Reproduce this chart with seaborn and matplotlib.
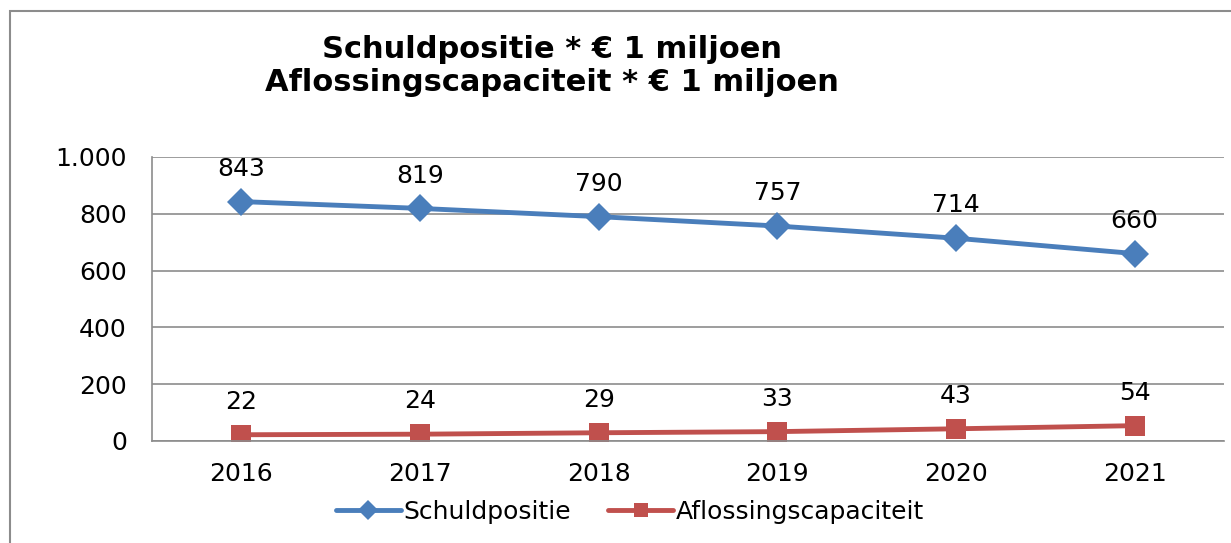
import matplotlib
matplotlib.use('Agg')
import matplotlib.pyplot as plt
import matplotlib.ticker as mticker
from matplotlib.patches import Rectangle
import seaborn as sns
import pandas as pd

years = ['2016', '2017', '2018', '2019', '2020', '2021']
schuldpositie = [843, 819, 790, 757, 714, 660]
aflossingscapaciteit = [22, 24, 29, 33, 43, 54]

series_names = ['Schuldpositie', 'Aflossingscapaciteit']
series_colors = ['#4a7ebb', '#c0504d']
series_markers = ['D', 's']

sns.set_style('white')
plt.rcParams['font.family'] = ['DejaVu Sans']
plt.rcParams['text.color'] = 'black'
plt.rcParams['xtick.color'] = 'black'
plt.rcParams['ytick.color'] = 'black'

df = pd.DataFrame({
    'jaar': years * 2,
    'waarde': schuldpositie + aflossingscapaciteit,
    'reeks': [series_names[0]] * 6 + [series_names[1]] * 6,
})

fig = plt.figure(figsize=(12.31, 5.43), dpi=100)
ax = fig.add_axes([152 / 1231, 1 - 441 / 543, (1224 - 152) / 1231, (441 - 157) / 543])

for name, color, marker in zip(series_names, series_colors, series_markers):
    sub = df[df['reeks'] == name]
    sns.lineplot(data=sub, x='jaar', y='waarde', ax=ax, color=color,
                 marker=marker, markersize=14, markeredgewidth=0,
                 linewidth=3.5, label=name, sort=False)
    for x, y in zip(range(len(sub)), sub['waarde']):
        ax.annotate(f'{y}', (x, y), xytext=(0, 15), textcoords='offset points',
                    ha='center', va='bottom', fontsize=18)

ax.set_xlim(-0.5, 5.5)
ax.set_ylim(0, 1000)
ax.set_yticks(range(0, 1001, 200))
ax.yaxis.set_major_formatter(mticker.FuncFormatter(lambda v, p: f'{int(v):,}'.replace(',', '.')))
ax.grid(axis='y', color='#8c8c8c', linewidth=1.2)
ax.set_axisbelow(True)
for s in ['top', 'right']:
    ax.spines[s].set_visible(False)
for s in ['left', 'bottom']:
    ax.spines[s].set_color('#8c8c8c')
    ax.spines[s].set_linewidth(1.2)
ax.tick_params(axis='both', labelsize=18, length=0)
ax.tick_params(axis='x', pad=15)
ax.tick_params(axis='y', pad=18)
ax.set_xlabel('')
ax.set_ylabel('')

ax.legend(loc='center', bbox_to_anchor=(630 / 1231, 1 - 512 / 543),
          bbox_transform=fig.transFigure, ncol=2, frameon=False, fontsize=18,
          handlelength=2.6, handletextpad=0.1, columnspacing=1.5, markerscale=0.7)

fig.text(552 / 1231, 1 - 66 / 543, 'Schuldpositie * € 1 miljoen\nAflossingscapaciteit * € 1 miljoen',
         ha='center', va='center', fontsize=22, fontweight='bold', linespacing=1.15)

fig.patches.append(Rectangle((10 / 1231, -0.1), 1.2, 1 - 11 / 543 + 0.1,
                             transform=fig.transFigure, fill=False,
                             edgecolor='#8c8c8c', linewidth=1.5))

fig.savefig('out.png', dpi=100)
